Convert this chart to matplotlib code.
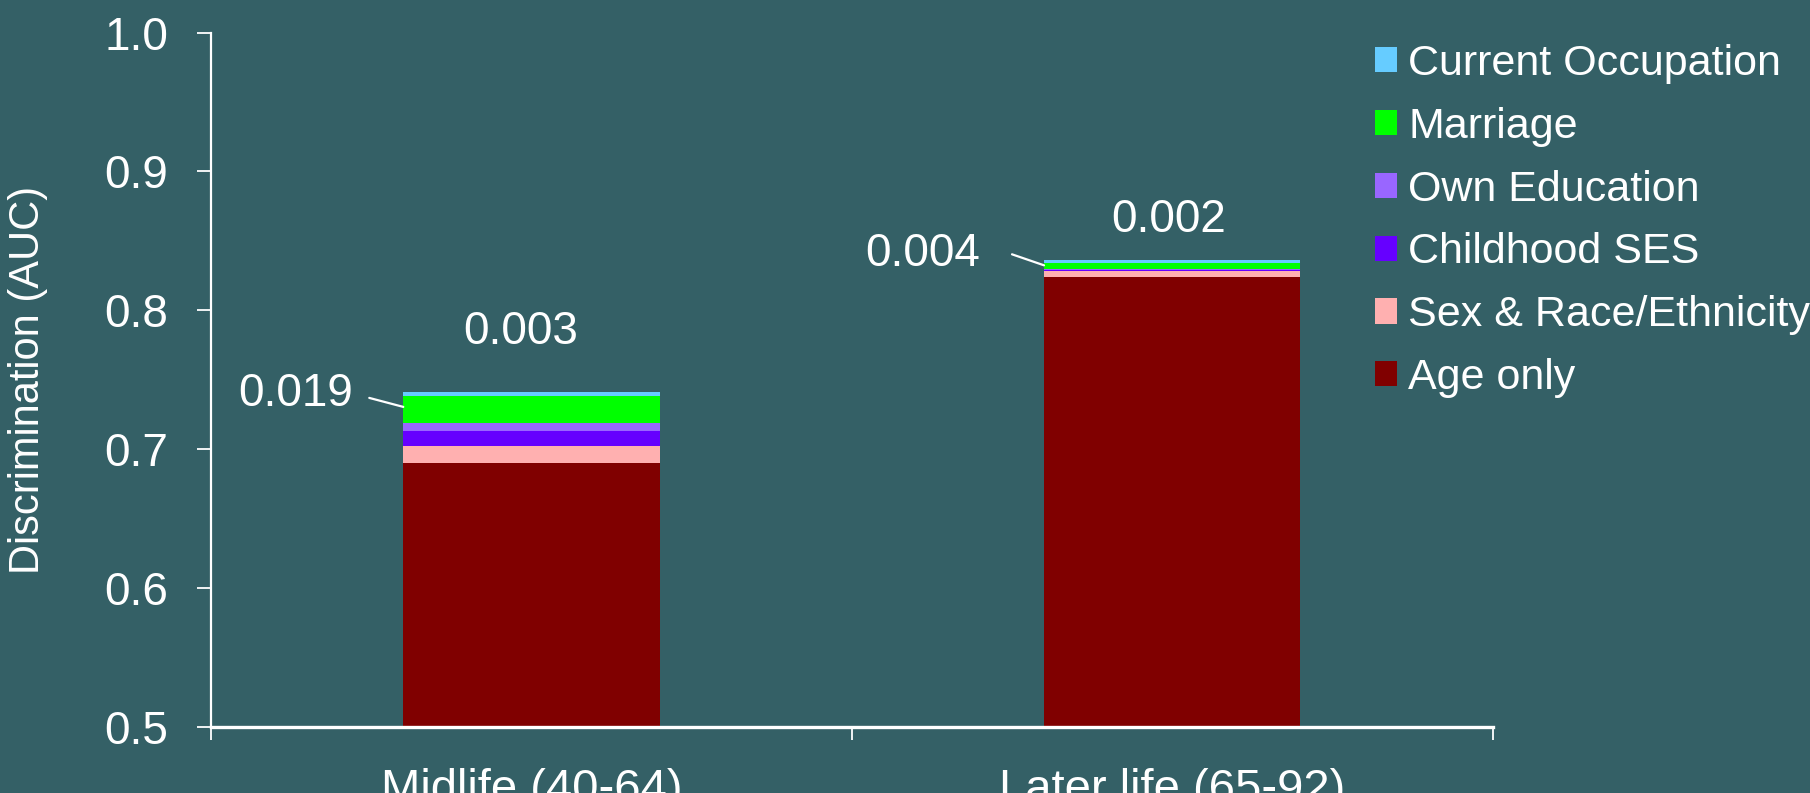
import matplotlib
matplotlib.use("Agg")
import matplotlib.pyplot as plt
from matplotlib.patches import Patch
import numpy as np

# Stage groups and incremental AUC contributions of each predictor block
categories = ["Midlife (40-64)", "Later life (65-92)"]
age_only = [0.690, 0.824]
sex_race_ethnicity = [0.012, 0.004]
childhood_ses = [0.011, 0.001]
own_education = [0.006, 0.001]
marriage = [0.019, 0.004]
current_occupation = [0.003, 0.002]

series_names = ["Age only", "Sex & Race/Ethnicity", "Childhood SES",
                "Own Education", "Marriage", "Current Occupation"]
series_values = [age_only, sex_race_ethnicity, childhood_ses,
                 own_education, marriage, current_occupation]
series_colors = ["#800000", "#FFB0B0", "#6600FF", "#9966FF", "#00FF00", "#66CCFF"]

y_ticks = [0.5, 0.6, 0.7, 0.8, 0.9, 1.0]

BG = "#346066"
FG = "white"
FONT = "Liberation Sans"

plt.rcParams["font.family"] = [FONT, "DejaVu Sans"]

fig = plt.figure(figsize=(18.1, 7.93), dpi=100, facecolor=BG)
ax = fig.add_axes([0.1166, 0.0836, 0.708, 0.8752])
ax.set_facecolor(BG)

x = np.arange(len(categories))
width = 0.4
bottom = np.zeros(len(categories))
bars = {}
for name, vals, col in zip(series_names, series_values, series_colors):
    vals = np.asarray(vals)
    bars[name] = ax.bar(x, vals, width, bottom=bottom, color=col,
                        edgecolor="none", label=name)
    bars[name + "_bottom"] = bottom.copy()
    bottom = bottom + vals
totals = bottom

ax.set_xlim(-0.5, 1.5)
ax.set_ylim(0.5, 1.0)
ax.set_yticks(y_ticks)
ax.set_yticklabels([f"{t:.1f}" for t in y_ticks])
ax.set_xticks([-0.5, 0.5, 1.5])
ax.set_xticklabels([])
ax.set_xticks(x, minor=True)
ax.set_xticklabels(categories, minor=True)

for side in ("top", "right"):
    ax.spines[side].set_visible(False)
for side in ("left", "bottom"):
    ax.spines[side].set_color(FG)
    ax.spines[side].set_linewidth(1.6)
ax.spines["bottom"].set_linewidth(2.4)

ax.tick_params(axis="y", which="major", direction="out", length=10, width=1.3,
               colors=FG, labelsize=33, pad=21)
ax.tick_params(axis="x", which="major", direction="out", length=9.5, width=1.3,
               colors=FG)
ax.tick_params(axis="x", which="minor", length=0, colors=FG, labelsize=34, pad=30)
for lbl in ax.get_yticklabels() + ax.get_xticklabels(minor=True):
    lbl.set_color(FG)

ax.set_ylabel("Discrimination (AUC)", fontsize=30, color=FG, va="center")
ax.yaxis.set_label_coords(-0.1425, 0.5)

# Marriage contribution labels with leader lines (pixel offsets from the bar edge)
marriage_text_off = [(-108, 13), (-121, 11)]
marriage_line_off = [(-34, 9), (-32, 11)]
mb = bars["Marriage_bottom"]
for i in range(len(categories)):
    anchor = (x[i] - width / 2, mb[i] + 0.6 * marriage[i])
    ax.annotate("", xy=anchor, xytext=marriage_line_off[i],
                textcoords="offset pixels",
                arrowprops=dict(arrowstyle="-", color=FG, lw=1.6,
                                shrinkA=0, shrinkB=0))
    ax.annotate(f"{marriage[i]:.3f}", xy=anchor, xytext=marriage_text_off[i],
                textcoords="offset pixels", ha="center", va="center",
                fontsize=33, color=FG)

# Current occupation labels above the stacks
occ_text_off = [(-11, 60), (-4, 40)]
for i in range(len(categories)):
    ax.annotate(f"{current_occupation[i]:.3f}", xy=(x[i], totals[i]),
                xytext=occ_text_off[i], textcoords="offset pixels",
                ha="center", va="center", fontsize=33, color=FG)

handles = [Patch(facecolor=c, edgecolor="none") for c in series_colors][::-1]
labels = series_names[::-1]
leg = fig.legend(handles, labels, loc="upper left",
                 bbox_to_anchor=(1375 / 1810, 1 - 44 / 793),
                 frameon=False, fontsize=31, handlelength=0.52,
                 handleheight=0.52, handletextpad=0.25, labelspacing=0.53,
                 borderpad=0, borderaxespad=0)
for t in leg.get_texts():
    t.set_color(FG)

fig.savefig("out.png", dpi=100, facecolor=BG)
